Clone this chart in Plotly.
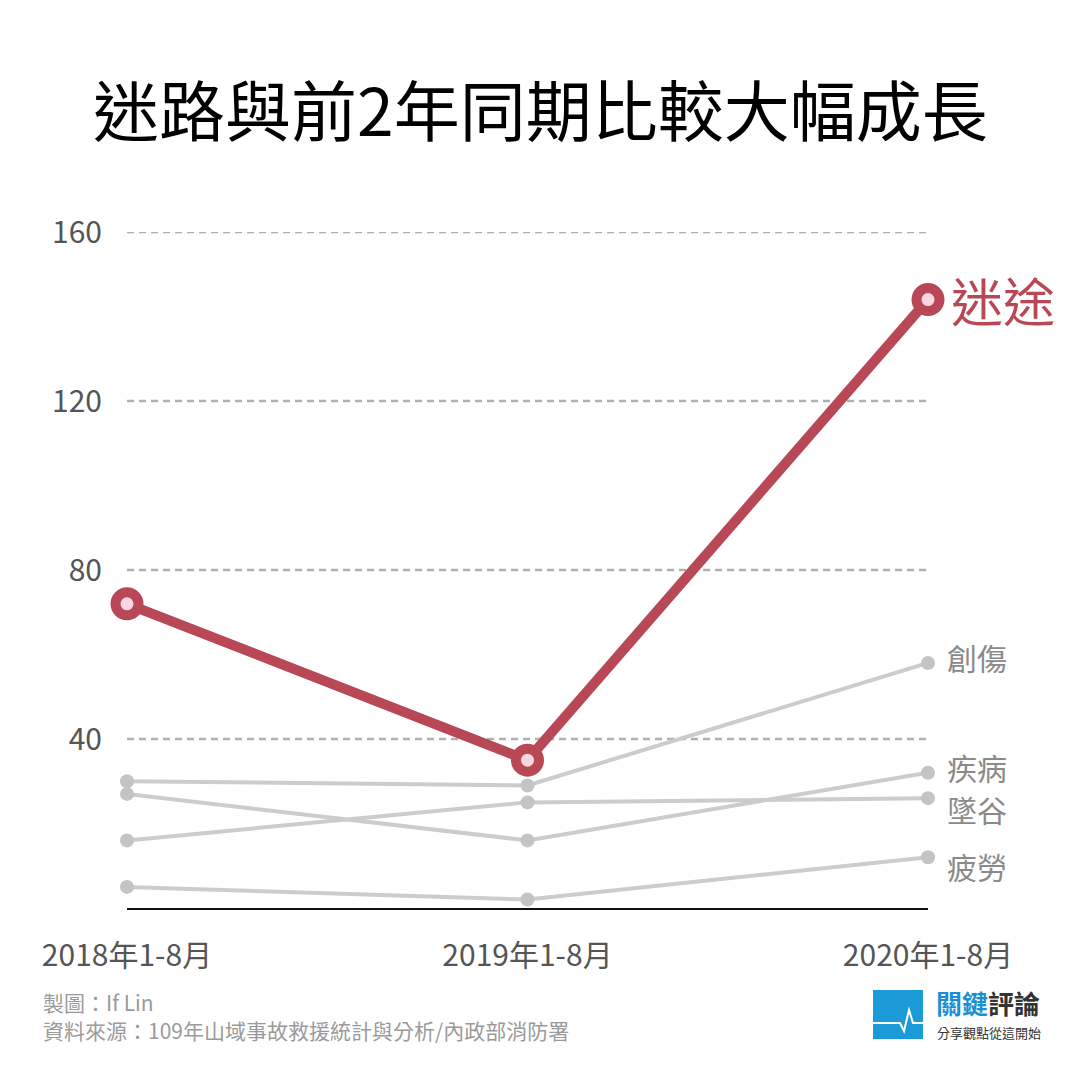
import plotly.graph_objects as go

# ---- data ----
periods = ["2018年1-8月", "2019年1-8月", "2020年1-8月"]
lost = [72, 35, 144]          # 迷途
trauma = [30, 29, 58]         # 創傷
illness = [27, 16, 32]        # 疾病
fall = [16, 25, 26]           # 墜谷
fatigue = [5, 2, 12]          # 疲勞
y_ticks = [40, 80, 120, 160]

grey_series = [
    ("創傷", trauma, 6),
    ("疾病", illness, 6),
    ("墜谷", fall, -11),
    ("疲勞", fatigue, -9),
]

FONT = "Noto Sans CJK TC, Noto Sans, sans-serif"
RED = "#B94856"
PINK = "#FAD6E1"
GREY_LINE = "#CCCCCC"
GREY_MARK = "#C4C4C4"

fig = go.Figure()

for name, vals, _ in grey_series:
    fig.add_trace(go.Scatter(
        x=periods, y=vals, mode="lines+markers", name=name,
        line=dict(color=GREY_LINE, width=4),
        marker=dict(color=GREY_MARK, size=14, line=dict(width=0)),
        cliponaxis=False, hoverinfo="skip", showlegend=False,
    ))

fig.add_trace(go.Scatter(
    x=periods, y=lost, mode="lines+markers", name="迷途",
    line=dict(color=RED, width=10),
    marker=dict(color=PINK, size=23, line=dict(color=RED, width=10)),
    cliponaxis=False, hoverinfo="skip", showlegend=False,
))

annotations = []
for name, vals, shift in grey_series:
    annotations.append(dict(
        x=periods[-1], y=vals[-1], xref="x", yref="y", text=name,
        showarrow=False, xanchor="left", yanchor="middle",
        xshift=17, yshift=shift,
        font=dict(family=FONT, size=30, color="#8A8A8A"),
    ))
annotations.append(dict(
    x=periods[-1], y=lost[-1], xref="x", yref="y", text="迷途",
    showarrow=False, xanchor="left", yanchor="middle",
    xshift=21, yshift=0,
    font=dict(family=FONT, size=52, color=RED),
))

# page-pixel positions (page has an 8px body margin)
OFF = 8
W, H = 1080 - OFF, 1080 - OFF
ML, MR, MT, MB = 127 - OFF, 152, 232 - OFF, 172
pw, ph = W - ML - MR, H - MT - MB

def px(x):
    return (x - OFF - ML) / pw

def py(y):
    return (H - MB - (y - OFF)) / ph

footer = [
    dict(x=41, y=1002, text="製圖：If Lin", anchor="left", size=21, color="#9A9A9A"),
    dict(x=41, y=1030, text="資料來源：109年山域事故救援統計與分析/內政部消防署",
         anchor="left", size=21, color="#9A9A9A"),
    dict(x=934, y=1002, text="<b><span style='color:#1A8FD3'>關鍵</span>評論</b>",
         anchor="left", size=26, color="#333333"),
    dict(x=935, y=1032, text="分享觀點從這開始", anchor="left", size=13, color="#333333"),
    dict(x=540, y=107, text="迷路與前2年同期比較大幅成長", anchor="center", size=66,
         color="#000000"),
]
for f in footer:
    annotations.append(dict(
        x=px(f["x"]), y=py(f["y"]), xref="paper", yref="paper", text=f["text"],
        showarrow=False, xanchor=f["anchor"], yanchor="middle",
        font=dict(family=FONT, size=f["size"], color=f["color"]),
    ))

shapes = [
    dict(type="rect", xref="paper", yref="paper",
         x0=px(873), x1=px(923), y0=py(1039), y1=py(990),
         fillcolor="#1A9BD7", line=dict(width=0)),
    dict(type="path", xref="paper", yref="paper",
         path="M {} {} L {} {} L {} {} L {} {} L {} {} L {} {}".format(
             px(873), py(1023), px(900), py(1023), px(904), py(1031),
             px(909), py(1010), px(913), py(1023), px(923), py(1023)),
         line=dict(color="white", width=2)),
]
# dashed gridlines drawn at each y tick
for v in y_ticks:
    shapes.append(dict(type="line", xref="paper", yref="y", x0=0, x1=1, y0=v, y1=v,
                       line=dict(color="#B0B0B0", width=2.5, dash="7px,5px"), layer="below"))

fig.update_layout(
    width=W, height=H,
    margin=dict(l=ML, r=MR, t=MT, b=MB),
    paper_bgcolor="white", plot_bgcolor="white",
    font=dict(family=FONT),
    annotations=annotations,
    shapes=shapes,
    xaxis=dict(
        range=[0, 2], showgrid=False, zeroline=False,
        showline=True, linecolor="#111111", linewidth=1.5,
        ticks="", tickfont=dict(family=FONT, size=30, color="#555555"),
        ticklabelstandoff=20, fixedrange=True,
    ),
    yaxis=dict(
        range=[0, 160], tickvals=y_ticks, ticktext=[str(v) for v in y_ticks],
        showgrid=False, zeroline=False, showline=False, ticks="",
        tickfont=dict(family=FONT, size=30, color="#555555"),
        ticklabelstandoff=24, fixedrange=True,
    ),
)

fig.write_html("out.html")
